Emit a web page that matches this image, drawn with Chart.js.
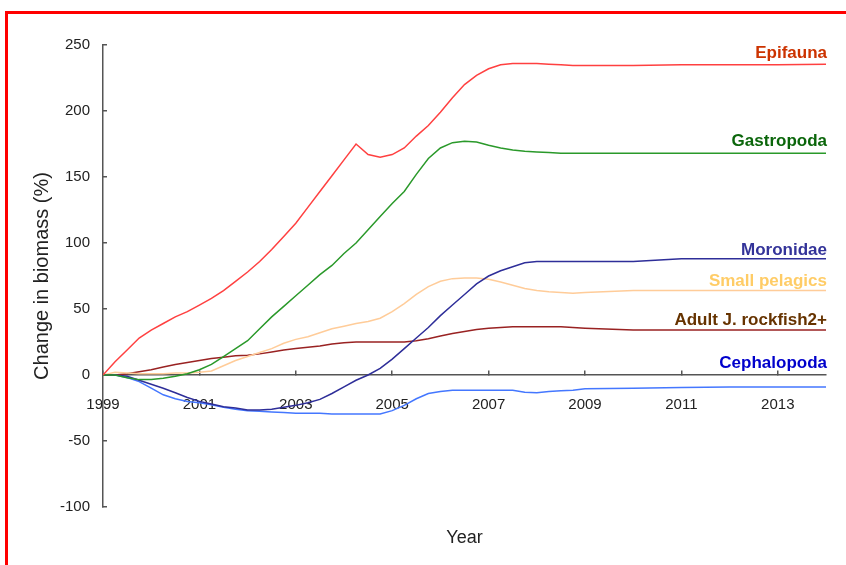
<!DOCTYPE html>
<html>
<head>
<meta charset="utf-8">
<script src="https://cdn.jsdelivr.net/npm/chart.js@4"></script>
<style>
  html, body { margin: 0; padding: 0; background: #fff; }
  #wrap { position: relative; width: 846px; height: 565px; overflow: hidden; }
  #frame { position: absolute; left: 5px; top: 11px; width: 900px; height: 600px;
           border-left: 3px solid #ff0000; border-top: 3px solid #ff0000; }
  canvas { position: absolute; left: 0; top: 0; }
</style>
</head>
<body>
<div id="wrap">
  <div id="frame"></div>
  <canvas id="grafico" width="846" height="565"></canvas>
</div>
<script>
// anos (trimestres até 2009, depois anual)
const anos = [1999, 1999.25, 1999.5, 1999.75, 2000, 2000.25, 2000.5, 2000.75,
  2001, 2001.25, 2001.5, 2001.75, 2002, 2002.25, 2002.5, 2002.75,
  2003, 2003.25, 2003.5, 2003.75, 2004, 2004.25, 2004.5, 2004.75,
  2005, 2005.25, 2005.5, 2005.75, 2006, 2006.25, 2006.5, 2006.75,
  2007, 2007.25, 2007.5, 2007.75, 2008, 2008.25, 2008.5, 2008.75,
  2009, 2010, 2011, 2012, 2013, 2014];

const anosEixo = [1999, 2001, 2003, 2005, 2007, 2009, 2011, 2013];
const valoresEixoY = [-100, -50, 0, 50, 100, 150, 200, 250];

const epifauna = [0, 10, 19, 28, 34, 39, 44, 48, 53, 58,
  64, 71, 78, 86, 95, 105, 115, 127, 139, 151,
  163, 175, 167, 165, 167, 172, 181, 189, 199, 210,
  220, 227, 232, 235, 236, 236, 236, 235.5, 235, 234.5,
  234.5, 234.5, 235, 235, 235, 235.5];

const gastropoda = [0, 0, -2, -3.5, -3.5, -2.5, -1, 1, 4, 8,
  14, 20, 26, 35, 44, 52, 60, 68, 76, 83,
  92, 100, 110, 120, 130, 139, 152, 164, 172, 176,
  177, 176.5, 174, 172, 170.5, 169.5, 169, 168.5, 168, 168,
  168, 168, 168, 168, 168, 168];

const moronidae = [0, 0, -1, -4, -7, -10, -13.5, -17, -20, -22,
  -24, -25, -26.5, -26.5, -26, -24.5, -23, -21, -18.5, -14,
  -9, -4, 0, 5, 12, 20, 28, 36, 45, 53,
  61, 69, 75, 79, 82, 85, 86, 86, 86, 86,
  86, 86, 88, 88, 88, 88];

const pequenosPelagicos = [0, 2, 1.5, 1, 1, 1, 1.5, 1.5, 2, 3,
  7, 11, 14, 17, 20, 24, 27, 29, 32, 35,
  37, 39, 40.5, 43, 48, 54, 61, 67, 71, 73,
  73.5, 73.5, 72.5, 70.5, 68, 65.5, 64, 63, 62.5, 62,
  62.5, 64, 64, 64, 64, 64];

const rockfishAdulto = [0, 0, 1, 2.5, 4, 6, 8, 9.5, 11, 12.5,
  13.5, 14.5, 15, 16, 17.5, 19, 20, 21, 22, 23.5,
  24.5, 25, 25, 25, 25, 25, 26, 27.5, 29.5, 31.5,
  33, 34.5, 35.5, 36, 36.5, 36.5, 36.5, 36.5, 36.5, 36,
  35.5, 34, 34, 34, 34, 34];

const cephalopoda = [0, 0, -2, -5, -10, -15, -18, -20, -21, -22.5,
  -24.5, -26, -27, -27.5, -28, -28.5, -29, -29, -29, -29.5,
  -29.5, -29.5, -29.5, -29.5, -27, -23, -18, -14, -12.5, -11.5,
  -11.5, -11.5, -11.5, -11.5, -11.5, -13, -13.5, -12.5, -12, -11.5,
  -10.5, -10, -9.5, -9, -9, -9];

const pontos = valores => anos.map((a, i) => ({ x: a, y: valores[i] }));

const serie = (nome, valores, cor, corRotulo, espaco) => ({
  label: nome,
  data: pontos(valores),
  borderColor: cor,
  borderWidth: 1.5,
  pointRadius: 0,
  tension: 0,
  corRotulo: corRotulo,
  espacoRotulo: espaco
});

// nome de cada série escrito no fim da linha
const rotulosFinais = {
  id: 'rotulosFinais',
  afterDatasetsDraw(chart) {
    const ctx = chart.ctx;
    ctx.save();
    ctx.font = 'bold 17px "Liberation Sans", Arial, sans-serif';
    ctx.textAlign = 'right';
    ctx.textBaseline = 'alphabetic';
    chart.data.datasets.forEach((ds, i) => {
      const pts = chart.getDatasetMeta(i).data;
      const ultimo = pts[pts.length - 1];
      ctx.fillStyle = ds.corRotulo;
      ctx.fillText(ds.label, chart.chartArea.right + 1, ultimo.y - ds.espacoRotulo);
    });
    ctx.restore();
  }
};

Chart.defaults.font.family = '"Liberation Sans", Arial, sans-serif';
Chart.defaults.color = '#222';

new Chart(document.getElementById('grafico'), {
  type: 'line',
  data: {
    datasets: [
      serie('Epifauna', epifauna, '#ff4040', '#cc3300', 6),
      serie('Gastropoda', gastropoda, '#2a992a', '#0b660b', 7),
      serie('Moronidae', moronidae, '#2e2e99', '#333399', 4),
      serie('Small pelagics', pequenosPelagicos, '#ffcc99', '#ffcc66', 5),
      serie('Adult J. rockfish2+', rockfishAdulto, '#992222', '#663300', 5),
      serie('Cephalopoda', cephalopoda, '#4477ff', '#0000cc', 19)
    ]
  },
  options: {
    responsive: false,
    animation: false,
    events: [],
    layout: { padding: { top: 45, right: 20, bottom: 58, left: 0 } },
    plugins: {
      legend: { display: false },
      tooltip: { enabled: false }
    },
    scales: {
      x: {
        type: 'linear',
        min: 1999,
        max: 2014,
        position: { y: 0 },
        afterBuildTicks: s => { s.ticks = anosEixo.map(v => ({ value: v })); },
        ticks: {
          callback: v => String(v),
          font: { size: 15 },
          padding: 26,
          maxRotation: 0,
          autoSkip: false
        },
        grid: { drawOnChartArea: false, tickLength: -5, color: '#555', lineWidth: 1.5 },
        border: { color: '#555', width: 1.5 },
        title: {
          display: true,
          text: 'Year',
          font: { size: 18 },
          color: '#222',
          padding: { top: 87, bottom: 0 }
        }
      },
      y: {
        min: -100,
        max: 250,
        afterBuildTicks: s => { s.ticks = valoresEixoY.map(v => ({ value: v })); },
        afterFit: s => { s.width = 103; },
        ticks: { font: { size: 15 }, padding: 17 },
        grid: { drawOnChartArea: false, tickLength: -4, color: '#555', lineWidth: 1.5 },
        border: { color: '#555', width: 1.5 },
        title: {
          display: true,
          text: 'Change in biomass (%)',
          font: { size: 20 },
          color: '#222',
          padding: { top: 30, bottom: 0 }
        }
      }
    }
  },
  plugins: [rotulosFinais]
});
</script>
</body>
</html>
